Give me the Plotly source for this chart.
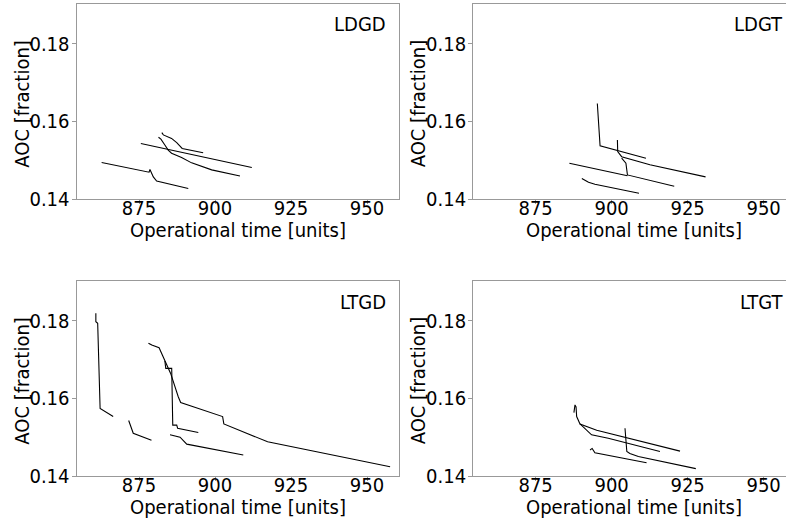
import plotly.graph_objects as go

W, H = 786, 522

PANEL_NAMES = ["LDGD", "LDGT", "LTGD", "LTGT"]
X_TICKS = [875, 900, 925, 950]
Y_TICKS = [0.14, 0.16, 0.18]
X_LABEL = "Operational time [units]"
Y_LABEL = "AOC [fraction]"

LDGD_X = [
    [862.7, 878.3, 878.6, 879.7, 880.8, 891.2],
    [882.5, 883.0, 885.7, 887.4, 889.2, 896.1],
    [875.6, 912.1],
    [881.4, 882.2, 883.5, 884.6, 885.7, 889.0, 892.3, 898.9, 908.2],
]
LDGD_Y = [
    [0.1494, 0.1469, 0.1476, 0.1457, 0.1446, 0.1427],
    [0.1571, 0.1565, 0.1556, 0.1545, 0.1530, 0.1519],
    [0.1543, 0.1481],
    [0.1559, 0.1554, 0.1539, 0.1526, 0.1518, 0.1507, 0.1493, 0.1475, 0.1459],
]

LDGT_X = [
    [895.3, 896.2, 911.3],
    [901.9, 902.0, 903.3, 912.6, 930.9],
    [886.1, 898.4, 905.2],
    [903.3, 904.7, 905.2, 920.6],
    [890.2, 892.4, 894.5, 909.0],
]
LDGT_Y = [
    [0.1646, 0.1537, 0.1505],
    [0.1552, 0.1522, 0.1509, 0.1488, 0.1457],
    [0.1492, 0.1472, 0.1460],
    [0.1505, 0.1492, 0.1462, 0.1433],
    [0.1453, 0.1443, 0.1438, 0.1415],
]

LTGD_X = [
    [860.8, 860.8, 861.4, 862.2, 866.5],
    [871.6, 873.1, 879.1],
    [878.1, 879.2, 881.6, 883.2, 885.4, 887.9, 888.7, 902.5, 902.9, 917.3, 957.6],
    [883.5, 883.8, 885.75, 886.1, 887.4, 887.7, 894.5],
    [885.2, 888.5, 890.7, 909.3],
]
LTGD_Y = [
    [0.1819, 0.1797, 0.1793, 0.1574, 0.1553],
    [0.1543, 0.1510, 0.1492],
    [0.1742, 0.1737, 0.1730, 0.1703, 0.1664, 0.1604, 0.1589, 0.1553, 0.1534, 0.1488, 0.1424],
    [0.1696, 0.1677, 0.1677, 0.1531, 0.1531, 0.1523, 0.1512],
    [0.1506, 0.1500, 0.1482, 0.1454],
]

LTGT_X = [
    [887.6, 887.95, 888.3, 888.5, 889.6, 895.1, 922.5],
    [889.6, 893.4, 898.9, 915.9],
    [904.4, 905.0, 906.0, 908.8, 927.7],
    [892.9, 893.6, 894.5, 911.5],
]
LTGT_Y = [
    [0.1563, 0.1583, 0.1578, 0.1553, 0.1534, 0.1518, 0.1464],
    [0.1534, 0.1506, 0.1497, 0.1463],
    [0.1523, 0.1463, 0.1458, 0.1450, 0.1419],
    [0.1467, 0.1471, 0.1460, 0.1434],
]

PANEL_X = [LDGD_X, LDGT_X, LTGD_X, LTGT_X]
PANEL_Y = [LDGD_Y, LDGT_Y, LTGD_Y, LTGT_Y]

FONT = "DejaVu Sans Condensed, DejaVu Sans, sans-serif"
FS = 20
SPINE = "#999999"

# pixel geometry of panels (left, right, top, bottom)
PX = [(76.7, 399.0), (473.3, 786.0), (76.7, 399.0), (473.3, 786.0)]
PY = [(4.0, 199.0), (4.0, 199.0), (281.0, 476.0), (281.0, 476.0)]
PX_PER_UNIT = 3.04
X0 = 854.5
Y_RANGE = [0.14, 0.1902]

fig = go.Figure()
layout = dict(
    width=W, height=H,
    margin=dict(l=0, r=0, t=0, b=0, pad=0, autoexpand=False),
    paper_bgcolor="white", plot_bgcolor="white",
    showlegend=False,
    font=dict(family=FONT, size=FS, color="black"),
)
annotations = []

for i in range(4):
    ax = "" if i == 0 else str(i + 1)
    for xs, ys in zip(PANEL_X[i], PANEL_Y[i]):
        fig.add_trace(go.Scatter(
            x=xs, y=ys, mode="lines",
            line=dict(color="black", width=1.1),
            xaxis="x" + ax, yaxis="y" + ax, hoverinfo="skip",
        ))
    l, r = PX[i]
    t, b = PY[i]
    right_open = r >= W
    xr = [X0, X0 + (r - l) / PX_PER_UNIT]
    layout["xaxis" + ax] = dict(
        domain=[l / W, r / W], range=xr, anchor="y" + ax,
        tickvals=X_TICKS, ticks="outside", ticklen=4, tickcolor=SPINE,
        ticklabelstandoff=-13,
        showline=True, linecolor=SPINE, linewidth=1.2, mirror=True,
        showgrid=False, zeroline=False, automargin=False, fixedrange=True,
        tickfont=dict(family=FONT, size=FS, color="black"),
    )
    layout["yaxis" + ax] = dict(
        domain=[1 - b / H, 1 - t / H], range=Y_RANGE, anchor="x" + ax,
        tickvals=Y_TICKS, tickformat=".2f", ticks="outside", ticklen=4,
        tickcolor=SPINE, ticklabelstandoff=-2,
        showline=True, linecolor=SPINE, linewidth=1.2,
        mirror=(not right_open),
        showgrid=False, zeroline=False, automargin=False, fixedrange=True,
        tickfont=dict(family=FONT, size=FS, color="black"),
    )
    # panel label
    annotations.append(dict(
        text=PANEL_NAMES[i], xref="paper", yref="paper",
        x=(min(l + 311.3, W - 1)) / W, y=1 - (t + 20.5) / H,
        xanchor="right", yanchor="middle", showarrow=False,
        font=dict(family=FONT, size=FS, color="black"),
    ))
    # x axis title
    annotations.append(dict(
        text=X_LABEL, xref="paper", yref="paper",
        x=(l + 161) / W, y=1 - (b + 31) / H,
        xanchor="center", yanchor="middle", showarrow=False,
        font=dict(family=FONT, size=FS, color="black"),
    ))
    # y axis title
    annotations.append(dict(
        text=Y_LABEL, xref="paper", yref="paper",
        x=(l - 55.5) / W, y=1 - ((t + b) / 2 + 2) / H,
        xanchor="center", yanchor="middle", showarrow=False, textangle=-90,
        font=dict(family=FONT, size=FS, color="black"),
    ))

layout["annotations"] = annotations
fig.update_layout(**layout)
fig.write_html(
    "out.html",
    config={"displayModeBar": False, "staticPlot": True},
    post_script="document.body.style.margin='0';document.body.style.overflow='hidden';",
)
